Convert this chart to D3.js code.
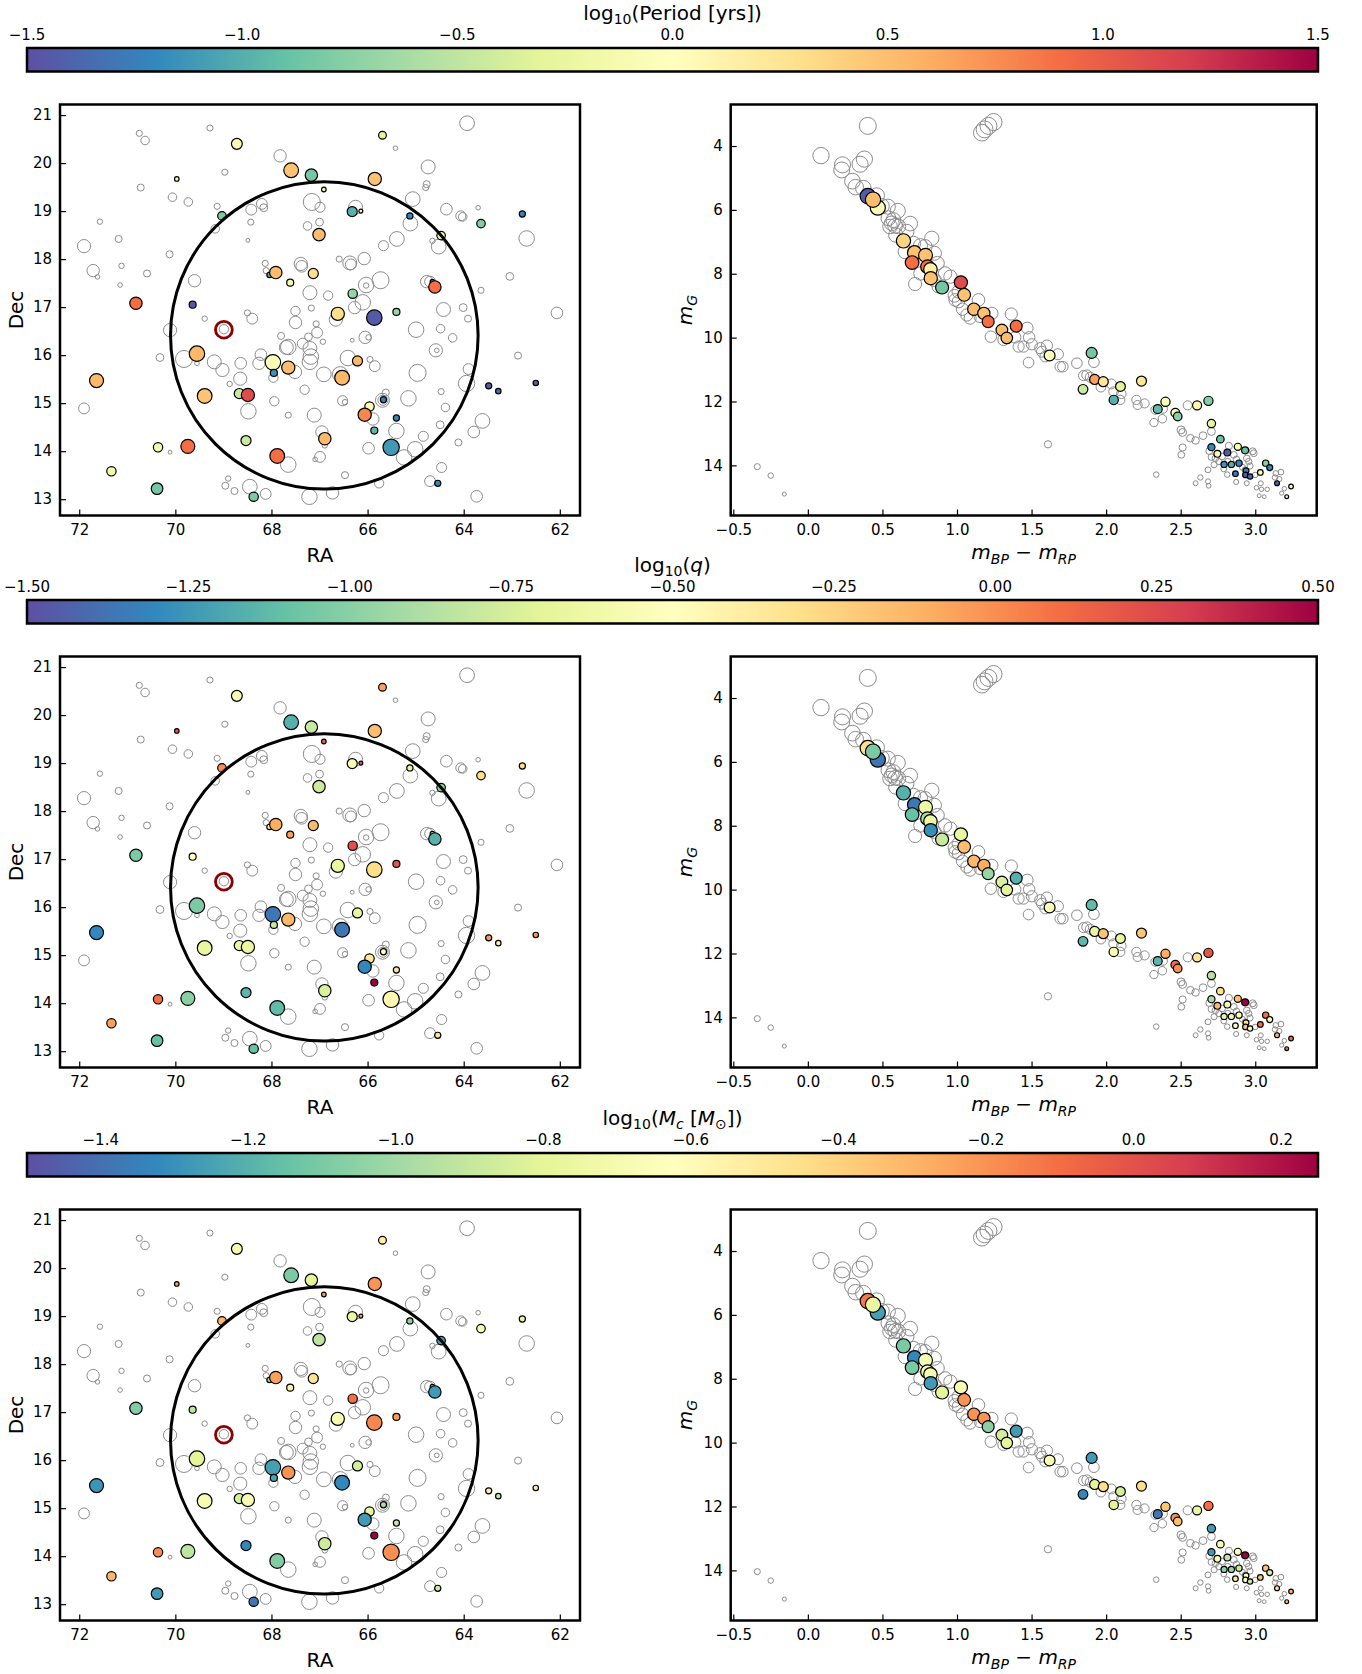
<!DOCTYPE html>
<html><head><meta charset="utf-8">
<script src="https://cdn.jsdelivr.net/npm/d3@7"></script>
<style>body{margin:0;background:#fff} text{font-family:"DejaVu Sans",sans-serif}</style>
</head><body>
<svg id="fig" width="1362" height="1674"></svg>
<script>
// ---------------- DATA ----------------
// Field stars on the sky: [RA, Dec, m_G]
const fieldStars = [
[69.28,20.73,14.0],[70.75,20.62,14.0],[70.63,20.47,12.5],[67.82,20.15,9.1],[68.97,19.81,14.0],[70.72,19.49,13.5],[70.06,19.29,12.5],[69.73,19.19,12.5],[69.13,19.10,14.0],[68.42,19.03,10.6],[68.20,19.15,10.6],[68.16,19.07,13.0],[67.16,19.19,3.3],[66.99,19.08,11.3],[68.43,18.77,14.0],[67.00,18.77,13.0],[69.17,18.63,12.5],[71.57,18.78,14.35],[71.18,18.42,13.5],[68.49,18.39,14.96],[67.25,18.69,12.5],[71.90,18.27,8.2],[70.12,18.10,13.5],[71.12,17.86,14.35],[71.71,17.76,9.1],[71.62,17.63,14.7],[70.59,17.70,13.5],[68.13,17.91,14.0],[68.11,17.76,14.0],[67.39,17.90,8.2],[67.37,17.85,9.85],[69.60,17.55,9.1],[71.15,17.46,14.7],[67.20,17.30,7.3],[67.17,16.98,14.0],[68.50,16.88,14.0],[68.40,16.76,10.6],[69.39,16.76,14.35],[67.50,16.92,11.9],[70.11,16.52,8.2],[68.99,16.54,11.9],[67.50,16.68,9.1],[67.07,16.65,14.0],[67.05,16.47,10.6],[67.80,16.40,13.5],[67.65,16.17,5.4],[67.69,16.16,7.3],[67.35,16.24,10.6],[67.23,16.38,13.0],[67.20,16.14,7.3],[66.93,16.28,14.35],[70.32,15.95,13.0],[69.82,15.92,3.3],[69.55,15.83,14.7],[69.19,15.86,7.3],[69.02,15.69,8.2],[68.64,15.83,9.85],[68.22,16.01,9.85],[68.26,15.83,9.1],[67.96,15.53,11.9],[67.18,15.97,5.4],[67.20,15.86,5.4],[67.51,15.65,8.2],[68.65,15.51,8.2],[68.87,15.40,14.35],[67.31,15.28,11.9],[67.94,15.04,11.9],[68.48,14.83,5.4],[67.65,14.75,14.0],[67.11,14.75,7.3],[71.90,14.89,10.6],[66.95,14.40,9.1],[70.11,13.98,14.96],[67.65,13.72,5.4],[67.09,13.83,14.7],[66.99,13.88,10.6],[68.90,13.43,14.35],[68.96,13.28,13.5],[68.77,13.17,13.5],[68.45,13.26,6.4],[68.12,13.11,10.6],[67.21,13.05,5.4],
[63.93,20.83,6.4],[65.42,20.31,14.7],[64.74,19.92,7.3],[64.77,19.56,13.5],[64.79,19.49,14.0],[65.06,19.25,6.4],[64.36,19.04,9.85],[63.70,19.07,14.7],[64.06,18.90,11.3],[64.02,18.88,12.5],[65.11,18.74,6.4],[65.39,18.42,6.4],[65.67,18.28,11.3],[64.65,18.38,14.35],[64.52,18.26,6.4],[62.69,18.43,5.4],[66.25,19.08,7.3],[66.59,18.00,14.0],[66.37,17.92,7.3],[66.35,17.89,10.6],[66.07,18.01,9.1],[65.73,17.56,3.3],[66.03,17.45,14.35],[66.03,17.46,5.4],[66.82,17.24,11.9],[64.77,17.53,9.1],[64.70,17.53,10.6],[63.04,17.64,13.0],[63.64,17.35,14.0],[66.10,17.10,5.4],[66.27,16.99,9.1],[64.42,16.95,7.3],[64.01,16.99,13.0],[63.91,16.76,13.5],[62.06,16.88,9.85],[66.66,16.74,8.2],[64.99,16.53,5.4],[64.48,16.55,12.5],[64.23,16.36,12.5],[66.05,16.37,9.1],[65.98,16.37,14.35],[66.32,16.31,14.96],[64.58,16.10,8.2],[64.56,16.10,14.7],[66.41,15.94,5.4],[65.95,15.91,14.0],[65.85,15.77,10.6],[66.91,15.60,6.4],[66.57,15.60,5.4],[64.96,15.63,3.3],[62.87,15.99,13.5],[63.90,15.71,10.6],[63.94,15.41,4.3],[64.47,15.24,14.0],[65.62,15.22,13.5],[65.69,15.06,7.3],[65.68,15.06,11.3],[65.15,15.10,5.4],[66.52,15.05,11.3],[66.47,15.02,14.35],[64.38,14.91,12.5],[65.89,14.67,9.1],[65.40,14.42,5.4],[64.84,14.31,11.3],[64.49,14.55,13.0],[63.61,14.63,6.4],[63.79,14.40,9.85],[64.11,14.18,13.5],[65.98,14.06,9.85],[65.01,14.04,5.4],[65.24,13.87,5.4],[64.46,13.66,11.3],[66.47,13.50,13.5],[64.70,13.375,10.6],[65.76,13.33,11.9],[66.73,13.13,9.1],[63.73,13.06,9.85],[66.89,14.12,14.35]
];

// Field stars in the CMD: [BP-RP, m_G]
const fieldCMD = [
[0.402,3.37],[0.088,4.30],[1.167,3.58],[1.185,3.48],[1.211,3.37],[1.245,3.25],[0.232,4.59],[0.227,4.75],[0.350,4.57],[0.379,4.41],[0.299,5.10],[0.321,5.29],[0.372,5.32],[0.462,5.55],[0.536,5.90],[0.603,6.03],[0.540,6.26],[0.563,6.42],[0.585,6.50],[0.551,6.52],[0.574,6.32],[0.607,6.52],[0.686,6.43],[0.590,6.79],[0.708,7.05],[0.755,7.12],[0.652,7.31],[0.849,7.36],[0.869,7.67],[0.755,7.99],[0.719,8.32],[0.849,8.19],[0.956,8.09],[0.876,8.40],[0.983,8.69],[0.988,8.82],[1.010,8.87],[1.037,9.11],[1.066,9.29],[1.088,9.39],[1.155,9.34],[1.364,9.26],[1.227,9.97],[1.312,10.07],[1.390,9.99],[1.446,10.28],[-0.339,14.04],[-0.249,14.32],[-0.158,14.90],
[0.495,5.88],[0.663,6.68],[0.786,7.15],[0.831,6.89],[0.920,7.99],[1.010,8.56],[1.144,8.82],[1.234,9.24],[1.413,10.28],
[1.471,9.70],[1.484,9.99],[1.502,10.21],[1.480,10.78],[1.558,10.33],[1.570,10.44],[1.603,10.25],[1.592,10.59],[1.677,10.52],[1.692,10.91],[1.710,10.91],[1.804,10.80],[1.918,10.77],[1.849,11.19],[1.871,11.17],[1.894,11.24],[1.965,11.55],[2.035,11.45],[2.050,11.69],[2.095,11.95],[2.102,11.76],[2.203,11.95],[2.211,12.11],[2.258,12.06],[2.330,12.26],[2.381,12.23],[2.321,12.66],[2.377,12.54],[2.547,12.12],[2.502,12.89],[2.513,12.97],[2.565,13.15],[2.600,13.22],[2.513,13.44],[2.504,13.67],[2.650,13.07],[2.706,12.94],[2.692,13.55],[2.706,13.74],[2.733,13.78],[2.724,13.98],[2.756,13.88],[2.778,13.72],[2.823,13.39],[2.856,13.67],[2.874,13.81],[2.816,13.88],[2.789,14.11],[2.812,14.29],[2.872,14.52],[2.943,13.78],[2.956,13.88],[2.965,14.02],[2.983,13.56],[2.990,13.62],[2.914,14.06],[2.932,14.14],[2.943,14.56],[2.999,14.30],[3.008,14.70],[3.037,14.56],[3.042,14.75],[3.080,14.75],[3.026,14.95],[3.060,14.98],[3.138,14.25],[3.172,14.21],[3.132,14.38],[3.161,14.43],[3.195,14.73],[3.177,14.87],[1.610,13.34],[2.336,14.29],[2.600,14.56],[2.632,14.38],[2.683,14.50],[2.687,14.64],[2.683,14.14]
];

// Binaries on the sky: [RA, Dec, m_G]
const binarySky = [
[68.72,20.40,10.6],[67.59,19.85,6.4],[67.17,19.75,9.1],[69.97,19.67,14.7],[66.91,19.45,14.7],[69.03,18.90,12.5],[67.01,18.51,9.1],[68.04,17.67,14.35],[67.91,17.72,9.1],[67.13,17.70,11.3],[67.61,17.51,13.5],[70.82,17.08,9.1],[69.64,17.05,13.5],[69.55,16.03,5.4],[67.97,15.85,5.4],[67.65,15.74,8.2],[67.95,15.63,13.5],[71.64,15.47,7.3],[69.39,15.15,6.4],[68.67,15.20,11.3],[68.49,15.17,8.2],[68.53,14.22,11.3],[69.74,14.10,7.3],[70.36,14.08,11.9],[67.88,13.90,6.4],[66.89,14.26,9.1],[71.33,13.58,11.9],[70.38,13.22,9.85],[68.37,13.05,11.9],
[65.69,20.58,13.05],[65.85,19.67,8.2],[66.32,18.99,11.3],[66.14,19.00,14.96],[65.12,18.90,13.97],[64.47,18.49,12.5],[63.64,18.74,12.5],[62.78,18.94,14.0],[64.65,17.53,14.7],[64.60,17.42,9.1],[66.31,17.28,11.9],[66.62,16.86,8.2],[65.86,16.78,5.4],[65.40,16.90,13.5],[66.21,15.88,11.3],[66.53,15.53,6.4],[63.48,15.36,14.0],[63.28,15.25,14.35],[62.50,15.42,14.35],[65.67,15.07,14.0],[65.96,14.93,11.9],[66.06,14.76,8.2],[65.40,14.69,14.0],[65.86,14.43,13.5],[65.51,14.08,4.3],[64.54,13.33,14.0]
];
const skyLogP  = [-0.09,0.48,-0.84,-0.15,-0.15,-0.81,0.51,-1.05,0.51,0.30,-0.09,0.90,-1.44,0.54,-0.06,0.51,-1.14,0.54,0.48,-0.45,1.11,-0.45,0.90,-0.15,0.90,0.54,-0.15,-0.84,-0.81,
 -0.30,0.48,-0.99,-0.15,-1.20,-0.30,-0.78,-1.20,-1.20,0.90,-0.69,0.30,-1.44,-0.69,0.54,0.54,-1.41,-1.35,-1.41,-1.26,-0.06,0.78,-1.20,-0.96,-1.11,-1.20];
const skyLogQ  = [-0.58,-1.16,-0.80,0.20,0.14,0.00,-0.78,-0.50,-0.10,-0.16,-0.06,-1.04,-0.50,-1.04,-1.36,-0.14,-0.80,-1.30,-0.66,-0.66,-0.66,-1.14,-1.00,0.10,-1.12,-0.74,-0.06,-1.10,-1.10,
 -0.06,-0.16,-0.54,0.20,-0.70,-1.00,-0.30,-0.30,-0.50,-1.16,0.22,-0.66,-0.30,0.20,-0.66,-1.36,-0.04,-0.40,-0.04,-0.50,-0.36,-1.30,-0.34,0.50,-0.44,-0.34];
const skyLogMc = [-0.68,-1.10,-0.80,-0.24,-0.24,-0.31,-0.92,-1.03,-0.24,-0.485,-0.54,-1.08,-0.92,-0.80,-1.255,-0.205,-1.24,-1.29,-0.68,-0.85,-0.68,-1.325,-0.92,-0.19,-1.08,-0.87,-0.31,-1.27,-1.38,
 -0.54,-0.205,-0.765,-0.24,-1.06,-1.27,-0.68,-0.765,-0.975,-1.27,-0.10,-0.68,-0.17,-0.22,-0.85,-1.325,-0.54,-0.89,-0.54,-0.975,-0.765,-1.27,-0.89,0.25,-0.19,-0.87];

// Binaries in the CMD: [BP-RP, m_G]
const binaryCMD = [
[0.402,5.57],[0.469,5.93],[0.437,5.68],[0.641,6.97],[0.715,7.34],[0.789,7.42],[0.699,7.65],[0.802,7.78],[0.822,7.86],[0.824,8.14],[0.900,8.43],[1.026,8.27],[1.048,8.66],[1.113,9.11],[1.180,9.24],[1.209,9.50],[1.301,9.76],[1.334,10.01],[1.397,9.64],
[1.621,10.56],[1.903,10.48],[1.923,11.31],[1.981,11.38],[1.845,11.62],[2.096,11.53],[2.051,11.95],[2.237,11.36],[2.398,12.01],[2.346,12.24],[2.464,12.35],[2.480,12.47],[2.610,12.12],[2.686,11.98],[2.706,12.69],[2.766,13.18],
[2.706,13.43],[2.746,13.64],[2.813,13.60],[2.883,13.42],[2.932,13.53],[2.791,13.97],[2.840,13.97],[2.891,13.93],[2.867,14.26],[2.938,14.17],[2.934,14.30],[2.965,14.35],[3.034,14.22],[3.070,13.93],[3.097,14.07],[3.146,14.56],[3.240,14.66],[3.211,14.98]
];
const cmdLogP  = [-1.44,-0.06,0.51,0.36,0.48,0.48,0.90,0.90,0.15,0.48,-0.84,1.11,0.48,0.51,0.48,0.90,0.51,0.51,0.90,
 -0.06,-0.84,0.66,0.24,-0.45,-0.30,-0.99,0.24,-0.06,-0.93,-0.09,-0.75,0.09,-0.78,-0.24,-0.90,
 -1.20,-0.09,-1.44,-0.09,-0.90,-1.14,-0.99,-1.20,-1.29,-1.20,-1.44,-1.35,-0.09,-0.75,-1.20,-1.44,-0.09,0.15];
const cmdLogQ  = [-0.30,-1.36,-1.04,-1.16,-1.36,-0.64,-1.10,-0.90,-0.64,-1.28,-0.80,-0.66,-0.16,-0.14,-0.10,-0.96,-0.74,-0.70,-1.16,
 -0.54,-1.12,-0.66,-0.18,-1.14,-0.66,-0.56,-0.20,-0.10,-1.14,0.10,0.00,-0.34,0.20,-0.86,-0.30,
 -0.90,-0.14,-0.56,-0.16,0.50,-0.66,-0.60,-0.54,-0.50,-0.34,-0.18,-0.50,0.10,0.10,-0.50,-0.14,0.10,0.10];
const cmdLogMc = [-0.135,-1.255,-0.765,-1.10,-1.325,-0.68,-1.10,-0.71,-0.68,-1.27,-0.80,-0.68,-0.205,-0.205,-0.205,-1.06,-0.85,-0.80,-1.27,
 -0.68,-1.27,-0.80,-0.45,-1.325,-0.85,-0.80,-0.45,-0.36,-1.38,-0.205,-0.33,-0.765,-0.10,-1.27,-0.68,
 -1.27,-0.68,-0.92,-0.66,0.25,-1.06,-1.03,-0.89,-0.80,-0.625,-0.66,-0.89,-0.345,-0.345,-0.835,-0.485,-0.275,-0.345];

// cluster region and highlighted star
const clusterCenter = [66.9, 16.41];
const clusterRadius = 3.2;
const highlightStar = [68.99, 16.53];

// axis ticks
const raTicks = [72,70,68,66,64,62];
const decTicks = [13,14,15,16,17,18,19,20,21];
const colorTicks = [-0.5,0.0,0.5,1.0,1.5,2.0,2.5,3.0];
const magTicks = [4,6,8,10,12,14];

// colour bars
const cbarDomains = [[-1.5,1.5],[-1.5,0.5],[-1.5,0.25]];
const cbarTicks = [
  [-1.5,-1.0,-0.5,0.0,0.5,1.0,1.5],
  [-1.5,-1.25,-1.0,-0.75,-0.5,-0.25,0.0,0.25,0.5],
  [-1.4,-1.2,-1.0,-0.8,-0.6,-0.4,-0.2,0.0,0.2]
];
const cbarFormats = [".1f",".2f",".1f"];
const cbarTitles = [
  [{t:"log"},{t:"10",sub:1},{t:"(Period [yrs])"}],
  [{t:"log"},{t:"10",sub:1},{t:"("},{t:"q",it:1},{t:")"}],
  [{t:"log"},{t:"10",sub:1},{t:"("},{t:"M",it:1},{t:"c",it:1,sub:1},{t:" ["},{t:"M",it:1},{t:"\u2299",sub:1},{t:"])"}]
];
const rowValuesSky = [skyLogP, skyLogQ, skyLogMc];
const rowValuesCMD = [cmdLogP, cmdLogQ, cmdLogMc];

// ---------------- DRAWING ----------------
const svg = d3.select("#fig");
const rowOffsets = [0, 552, 1105];
const FS_TICK = 15, FS_LAB = 20;

const spectralR = d3.scaleLinear()
  .domain(d3.range(11).map(i => i / 10))
  .range(d3.schemeSpectral[11].slice().reverse())
  .interpolate(d3.interpolateRgb).clamp(true);

const radius = m => Math.sqrt(5.9 * Math.max(15.6 - m, 0.35));

const L = {x0: 60, x1: 580, y0: 104.5, y1: 515.5};
const R = {x0: 730.7, x1: 1316.7, y0: 104.5, y1: 515.5};
const xL = d3.scaleLinear().domain([72.4, 61.58]).range([L.x0, L.x1]);
const yL = d3.scaleLinear().domain([12.66, 21.22]).range([L.y1, L.y0]);
const xR = d3.scaleLinear().domain([-0.5174, 3.412]).range([R.x0, R.x1]);
const yR = d3.scaleLinear().domain([15.57, 2.70]).range([R.y1, R.y0]);

const defs = svg.append("defs");
const grad = defs.append("linearGradient").attr("id","spec").attr("x1","0%").attr("x2","100%").attr("y1","0%").attr("y2","0%");
d3.range(0, 1.0001, 0.05).forEach(t => grad.append("stop").attr("offset", (t*100)+"%").attr("stop-color", spectralR(t)));
defs.append("clipPath").attr("id","clipL").append("rect").attr("x",L.x0).attr("y",L.y0).attr("width",L.x1-L.x0).attr("height",L.y1-L.y0);
defs.append("clipPath").attr("id","clipR").append("rect").attr("x",R.x0).attr("y",R.y0).attr("width",R.x1-R.x0).attr("height",R.y1-R.y0);

function richText(sel, parts, fs) {
  let cur = 0;
  parts.forEach(p => {
    const shift = p.sub ? fs * 0.24 : 0;
    sel.append("tspan").text(p.t)
      .attr("dy", shift - cur)
      .attr("font-size", p.sub ? fs * 0.7 : fs)
      .attr("font-style", p.it ? "italic" : "normal");
    cur = shift;
  });
}

function styleAxis(g) {
  g.select(".domain").remove();
  g.attr("font-size", null).attr("font-family", null);
  g.selectAll("text").attr("font-size", FS_TICK).attr("fill", "#000").style("font-family","DejaVu Sans");
  g.selectAll("line").attr("stroke", "#000").attr("stroke-width", 1.2);
}

rowOffsets.forEach((off, row) => {
  const G = svg.append("g").attr("transform", `translate(0,${off})`);
  const [lo, hi] = cbarDomains[row];
  const valToColor = v => spectralR((v - lo) / (hi - lo));

  // ---- colour bar ----
  const cb = d3.scaleLinear().domain([lo, hi]).range([27, 1318]);
  G.append("rect").attr("x", 27).attr("y", 48).attr("width", 1318 - 27).attr("height", 23.5)
    .attr("fill", "url(#spec)").attr("stroke", "#000").attr("stroke-width", 2.5);
  const fmt = d3.format(cbarFormats[row]);
  G.selectAll("text.cbt").data(cbarTicks[row]).join("text").attr("class","cbt")
    .attr("x", d => cb(d)).attr("y", 40).attr("text-anchor", "middle")
    .attr("font-size", FS_TICK).text(d => fmt(d));
  const title = G.append("text").attr("x", (27 + 1318) / 2).attr("y", 19.5).attr("text-anchor", "middle").attr("font-size", FS_LAB);
  richText(title, cbarTitles[row], FS_LAB);

  // ---- sky panel ----
  const pL = G.append("g").attr("clip-path", "url(#clipL)");
  pL.selectAll("circle.f").data(fieldStars).join("circle").attr("class","f")
    .attr("cx", d => xL(d[0])).attr("cy", d => yL(d[1])).attr("r", d => radius(d[2]))
    .attr("fill", "none").attr("stroke", "#8c8c8c").attr("stroke-width", 1);
  const valsS = rowValuesSky[row];
  pL.selectAll("circle.b").data(binarySky).join("circle").attr("class","b")
    .attr("cx", d => xL(d[0])).attr("cy", d => yL(d[1])).attr("r", d => radius(d[2]))
    .attr("fill", (d, i) => valToColor(valsS[i])).attr("stroke", "#000").attr("stroke-width", 1.2);
  pL.append("ellipse").attr("cx", xL(clusterCenter[0])).attr("cy", yL(clusterCenter[1]))
    .attr("rx", Math.abs(xL(clusterCenter[0] + clusterRadius) - xL(clusterCenter[0])))
    .attr("ry", Math.abs(yL(clusterCenter[1] + clusterRadius) - yL(clusterCenter[1])))
    .attr("fill", "none").attr("stroke", "#000").attr("stroke-width", 3);
  pL.append("circle").attr("cx", xL(highlightStar[0])).attr("cy", yL(highlightStar[1])).attr("r", 8.4)
    .attr("fill", "none").attr("stroke", "#8b0000").attr("stroke-width", 2.8);

  const axLb = G.append("g").attr("transform", `translate(0,${L.y1})`)
    .call(d3.axisBottom(xL).tickValues(raTicks).tickFormat(d3.format("d")).tickSizeInner(-6).tickSizeOuter(0).tickPadding(9));
  styleAxis(axLb);
  const axLl = G.append("g").attr("transform", `translate(${L.x0},0)`)
    .call(d3.axisLeft(yL).tickValues(decTicks).tickFormat(d3.format("d")).tickSizeInner(-6).tickSizeOuter(0).tickPadding(8));
  styleAxis(axLl);
  G.append("rect").attr("x", L.x0).attr("y", L.y0).attr("width", L.x1 - L.x0).attr("height", L.y1 - L.y0)
    .attr("fill", "none").attr("stroke", "#000").attr("stroke-width", 2.5);
  G.append("text").attr("x", (L.x0 + L.x1) / 2).attr("y", 562).attr("text-anchor", "middle").attr("font-size", FS_LAB).text("RA");
  G.append("text").attr("transform", `translate(23,${(L.y0 + L.y1) / 2}) rotate(-90)`).attr("text-anchor", "middle").attr("font-size", FS_LAB).text("Dec");

  // ---- CMD panel ----
  const pR = G.append("g").attr("clip-path", "url(#clipR)");
  pR.selectAll("circle.f").data(fieldCMD).join("circle").attr("class","f")
    .attr("cx", d => xR(d[0])).attr("cy", d => yR(d[1])).attr("r", d => radius(d[1]))
    .attr("fill", "none").attr("stroke", "#8c8c8c").attr("stroke-width", 1);
  const valsC = rowValuesCMD[row];
  pR.selectAll("circle.b").data(binaryCMD).join("circle").attr("class","b")
    .attr("cx", d => xR(d[0])).attr("cy", d => yR(d[1])).attr("r", d => radius(d[1]))
    .attr("fill", (d, i) => valToColor(valsC[i])).attr("stroke", "#000").attr("stroke-width", 1.2);

  const axRb = G.append("g").attr("transform", `translate(0,${R.y1})`)
    .call(d3.axisBottom(xR).tickValues(colorTicks).tickFormat(d3.format(".1f")).tickSizeInner(-6).tickSizeOuter(0).tickPadding(9));
  styleAxis(axRb);
  const axRl = G.append("g").attr("transform", `translate(${R.x0},0)`)
    .call(d3.axisLeft(yR).tickValues(magTicks).tickFormat(d3.format("d")).tickSizeInner(-6).tickSizeOuter(0).tickPadding(8));
  styleAxis(axRl);
  G.append("rect").attr("x", R.x0).attr("y", R.y0).attr("width", R.x1 - R.x0).attr("height", R.y1 - R.y0)
    .attr("fill", "none").attr("stroke", "#000").attr("stroke-width", 2.5);
  const xl = G.append("text").attr("x", (R.x0 + R.x1) / 2).attr("y", 559).attr("text-anchor", "middle").attr("font-size", FS_LAB);
  richText(xl, [{t:"m",it:1},{t:"BP",it:1,sub:1},{t:" \u2212 "},{t:"m",it:1},{t:"RP",it:1,sub:1}], FS_LAB);
  const yl = G.append("text").attr("transform", `translate(692,${(R.y0 + R.y1) / 2}) rotate(-90)`).attr("text-anchor", "middle").attr("font-size", FS_LAB);
  richText(yl, [{t:"m",it:1},{t:"G",it:1,sub:1}], FS_LAB);
});
</script>
</body></html>
